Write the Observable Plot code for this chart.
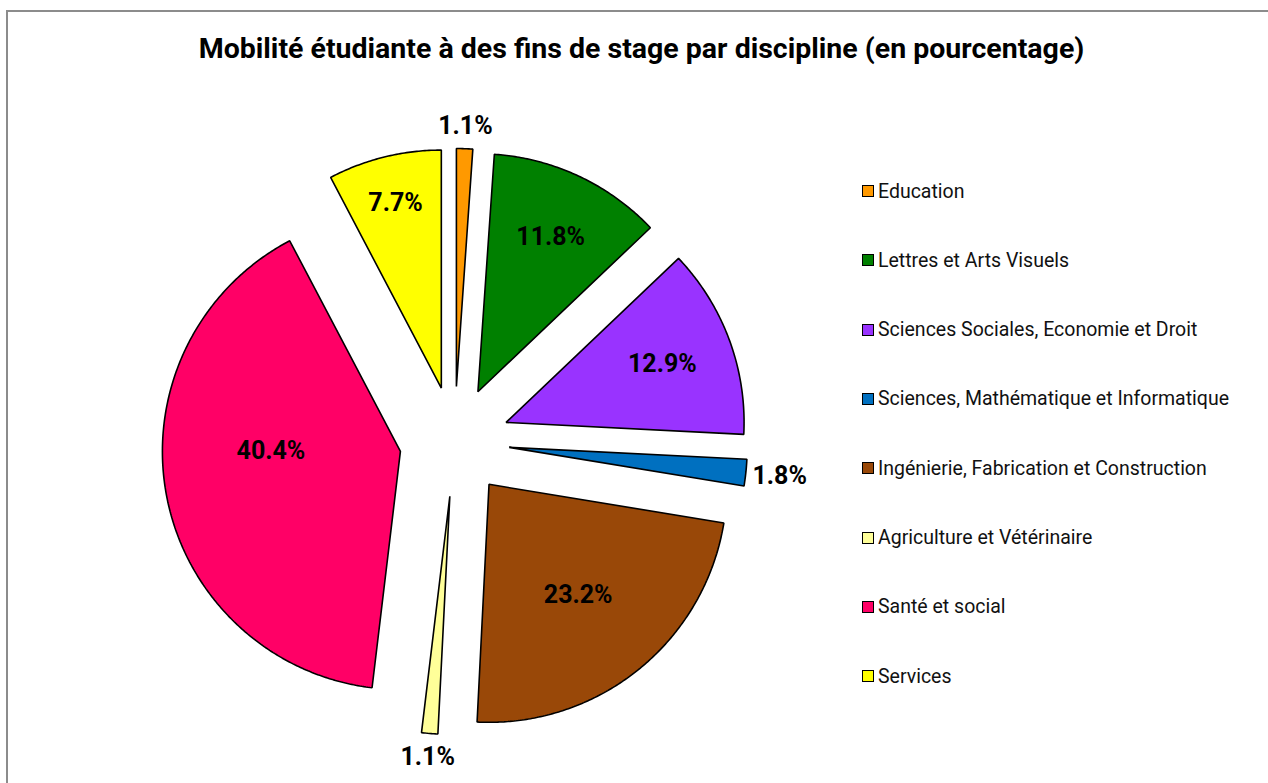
<!DOCTYPE html>
<html>
<head>
<meta charset="utf-8">
<script src="https://cdn.jsdelivr.net/npm/d3@7"></script>
<script src="https://cdn.jsdelivr.net/npm/@observablehq/plot@0.6"></script>
<style>
  html, body { margin: 0; padding: 0; background: #fff; }
  #wrap { position: relative; width: 1268px; height: 783px; overflow: hidden; font-family: Roboto, "Noto Sans", sans-serif; }
  #frame { position: absolute; left: 6px; top: 10px; width: 1400px; height: 900px; border: 2px solid #8c8c8c; box-sizing: border-box; }
  #title { position: absolute; left: 0; width: 1283px; top: 32px; line-height: 34px; text-align: center; font-weight: bold; font-size: 28.5px; color: #000; }
  #chart { position: absolute; left: 0; top: 0; }
  .leg { position: absolute; left: 862px; height: 24px; display: flex; align-items: center; font-size: 19.5px; color: #111; white-space: nowrap; }
  .sw { width: 10px; height: 10px; border: 1.5px solid #000; margin-right: 4px; box-sizing: content-box; }
</style>
</head>
<body>
<div id="wrap">
  <div id="frame"></div>
  <div id="title">Mobilité étudiante à des fins de stage par discipline (en pourcentage)</div>
  <div id="chart"></div>
</div>
<script>
// ---- data ----
const names = [
  "Education",
  "Lettres et Arts Visuels",
  "Sciences Sociales, Economie et Droit",
  "Sciences, Mathématique et Informatique",
  "Ingénierie, Fabrication et Construction",
  "Agriculture et Vétérinaire",
  "Santé et social",
  "Services"
];
const values = [1.1, 11.8, 12.9, 1.8, 23.2, 1.1, 40.4, 7.7];
const colors = ["#FF9900", "#008000", "#9933FF", "#0070C0", "#994808", "#FFFF99", "#FF0066", "#FFFF00"];

// ---- layout ----
const W = 1268, H = 783;
const CX = 454, CY = 441, R = 238;   // pie centre / radius in pixels
const EXPLODE = 55 / R;              // explosion distance (radius units)

const total = d3.sum(values);
let acc = 0;
const slices = names.map((name, i) => {
  const a0 = acc / total * 2 * Math.PI;
  acc += values[i];
  const a1 = acc / total * 2 * Math.PI;
  return {name, value: values[i], a0, a1, mid: (a0 + a1) / 2};
});

// polygon points for each slice (clockwise from 12 o'clock)
const pts = [];
for (const s of slices) {
  const ox = EXPLODE * Math.sin(s.mid), oy = EXPLODE * Math.cos(s.mid);
  pts.push({name: s.name, x: ox, y: oy});
  const n = Math.max(2, Math.ceil((s.a1 - s.a0) / (Math.PI / 360)));
  for (let k = 0; k <= n; k++) {
    const a = s.a0 + (s.a1 - s.a0) * k / n;
    pts.push({name: s.name, x: ox + Math.sin(a), y: oy + Math.cos(a)});
  }
}

// labels: small slices outside, others inside ("best fit"-like)
const labels = slices.map(s => {
  const p = s.value;
  const ox = EXPLODE * Math.sin(s.mid), oy = EXPLODE * Math.cos(s.mid);
  let x, y;
  if (p < 5) {
    const sx = Math.sin(s.mid), cy = Math.cos(s.mid);
    const dist = EXPLODE + 1 + (11 + Math.abs(sx) * 22 + Math.abs(cy) * 11) / R;
    x = dist * sx; y = dist * cy;
  } else {
    // label angle pulled towards the horizontal for wide slices
    const span = s.a1 - s.a0;
    let ang = s.mid;
    if (span > Math.PI / 2) {
      const h = Math.round(ang / (Math.PI / 2)) * (Math.PI / 2);
      ang = h;
    }
    const f = 0.53 + 0.55 * Math.exp(-p / 11);
    x = ox + f * Math.sin(ang); y = oy + f * Math.cos(ang);
  }
  return {x, y, text: p.toFixed(1) + "%"};
});

const chart = Plot.plot({
  width: W,
  height: H,
  margin: 0,
  style: {background: "transparent", overflow: "visible"},
  x: {domain: [(0 - CX) / R, (W - CX) / R], axis: null},
  y: {domain: [(CY - H) / R, CY / R], axis: null},
  color: {domain: names, range: colors},
  marks: [
    Plot.line(pts, {x: "x", y: "y", z: "name", fill: "name", stroke: "#000", strokeWidth: 1.6, strokeLinejoin: "miter", curve: "linear-closed"}),
    Plot.text(labels, {x: "x", y: "y", text: "text", fontSize: 25, fontWeight: "bold", fill: "#000", fontFamily: "Roboto, sans-serif"})
  ]
});
document.getElementById("chart").appendChild(chart);

// legend
const wrap = document.getElementById("wrap");
names.forEach((n, i) => {
  const el = document.createElement("div");
  el.className = "leg";
  el.style.top = (191 + i * 69.3 - 12) + "px";
  const sw = document.createElement("span");
  sw.className = "sw";
  sw.style.background = colors[i];
  const t = document.createElement("span");
  t.textContent = n;
  el.appendChild(sw);
  el.appendChild(t);
  wrap.appendChild(el);
});
</script>
</body>
</html>
